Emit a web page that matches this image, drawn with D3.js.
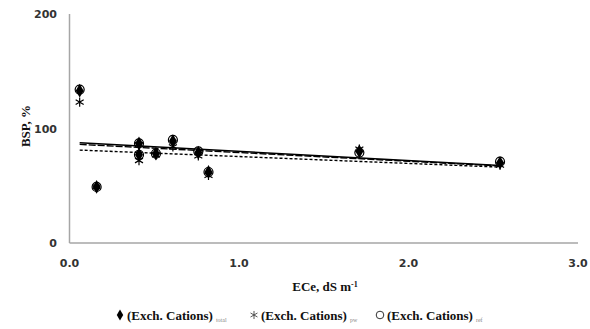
<!DOCTYPE html>
<html>
<head>
<meta charset="utf-8">
<script src="https://cdn.jsdelivr.net/npm/d3@7"></script>
<style>
	body { margin: 0; background: #fff; }
	svg { display: block; }
	.serif { font-family: "Liberation Serif", "DejaVu Serif", serif; font-weight: bold; fill: #111; }
</style>
</head>
<body>
<svg id="chart" width="590" height="329"></svg>
<script>
// values
const ece = [0.06, 0.16, 0.41, 0.41, 0.51, 0.61, 0.76, 0.82, 1.71, 2.54]
const bspTotal = [133, 49, 87, 77, 78, 89, 79, 62, 80, 70]
const bspPw = [123, 49, 86, 72, 77, 84, 76, 59, 82, 68]
const bspRef = [134, 49, 87, 77, 78, 90, 80, 62, 79, 71]

// linear trendlines (intercept, slope): total, pw, ref
const trendIntercept = [88.0, 86.6, 81.5]
const trendSlope = [-8.0, -7.6, -6.0]
const trendDash = ["none", "7,2", "3,2"]

const xTicks = [0, 1, 2, 3]
const yTicks = [0, 100, 200]
const legendNames = ["total", "pw", "ref"]

const svg = d3.select("#chart")
const x = d3.scaleLinear().domain([0, 3]).range([69.5, 578])
const y = d3.scaleLinear().domain([0, 200]).range([243, 14])

// axes, drawn as plain grey lines with bold labels
svg.append("line")
	.attr("x1", x(0)).attr("x2", x(0))
	.attr("y1", y(200)).attr("y2", y(0))
	.attr("stroke", "#a6a6a6").attr("stroke-width", 1.5)
svg.append("line")
	.attr("x1", x(0)).attr("x2", x(3))
	.attr("y1", y(0)).attr("y2", y(0))
	.attr("stroke", "#a6a6a6").attr("stroke-width", 1.5)

svg.append("g").selectAll("text")
	.data(yTicks)
	.join("text")
	.attr("x", 57)
	.attr("y", d => y(d) + 4)
	.attr("text-anchor", "end")
	.attr("style", "font-family:'DejaVu Sans';font-weight:bold;font-size:11px;fill:#333")
	.text(d => d)

svg.append("g").selectAll("text")
	.data(xTicks)
	.join("text")
	.attr("x", d => x(d))
	.attr("y", 267)
	.attr("text-anchor", "middle")
	.attr("style", "font-family:'DejaVu Sans';font-weight:bold;font-size:11px;fill:#333")
	.text(d => d.toFixed(1))

const xTitle = svg.append("text")
	.attr("class", "serif")
	.attr("x", 325)
	.attr("y", 291)
	.attr("text-anchor", "middle")
	.attr("font-size", 13)
xTitle.append("tspan").text("ECe, dS m")
xTitle.append("tspan").attr("dy", -4).attr("font-size", 8).text("-1")

svg.append("text")
	.attr("class", "serif")
	.attr("transform", "translate(30,126) rotate(-90)")
	.attr("text-anchor", "middle")
	.attr("font-size", 13)
	.text("BSP, %")

// trendlines across the range of the data
const xMin = d3.min(ece)
const xMax = d3.max(ece)
trendIntercept.forEach((b, i) => {
	svg.append("line")
		.attr("x1", x(xMin)).attr("y1", y(b + trendSlope[i] * xMin))
		.attr("x2", x(xMax)).attr("y2", y(b + trendSlope[i] * xMax))
		.attr("stroke", "#000")
		.attr("stroke-width", 1.4)
		.attr("stroke-dasharray", trendDash[i])
})

// markers
const diamond = d3.symbol().type(d3.symbolDiamond).size(55)
const star = d3.symbol().type(d3.symbolAsterisk).size(60)

svg.append("g").selectAll("path")
	.data(ece.map((e, i) => [e, bspPw[i]]))
	.join("path")
	.attr("transform", d => `translate(${x(d[0])},${y(d[1])})`)
	.attr("d", star)
	.attr("fill", "none")
	.attr("stroke", "#000")
	.attr("stroke-width", 1.2)

svg.append("g").selectAll("path")
	.data(ece.map((e, i) => [e, bspTotal[i]]))
	.join("path")
	.attr("transform", d => `translate(${x(d[0])},${y(d[1])})`)
	.attr("d", diamond)
	.attr("fill", "#000")

svg.append("g").selectAll("circle")
	.data(ece.map((e, i) => [e, bspRef[i]]))
	.join("circle")
	.attr("cx", d => x(d[0]))
	.attr("cy", d => y(d[1]))
	.attr("r", 4.5)
	.attr("fill", "none")
	.attr("stroke", "#000")
	.attr("stroke-width", 1.2)

// legend
const legendX = [120, 254, 380]
const legend = svg.append("g").selectAll("g")
	.data(legendNames)
	.join("g")
	.attr("transform", (d, i) => `translate(${legendX[i]},315)`)

legend.each(function (d, i) {
	const g = d3.select(this)
	if (i === 0) g.append("path").attr("d", d3.symbol().type(d3.symbolDiamond).size(36)).attr("fill", "#000")
	if (i === 1) g.append("path").attr("d", d3.symbol().type(d3.symbolAsterisk).size(45)).attr("fill", "none").attr("stroke", "#444").attr("stroke-width", 0.9)
	if (i === 2) g.append("circle").attr("r", 3.8).attr("fill", "none").attr("stroke", "#333").attr("stroke-width", 1)
	const t = g.append("text")
		.attr("class", "serif")
		.attr("x", 7)
		.attr("y", 4.5)
		.attr("font-size", 13)
	t.append("tspan").text("(Exch. Cations)")
	t.append("tspan").attr("dx", 3).attr("dy", 2).attr("font-size", 6).attr("font-weight", "normal").attr("fill", "#888").text(d)
})
</script>
</body>
</html>
